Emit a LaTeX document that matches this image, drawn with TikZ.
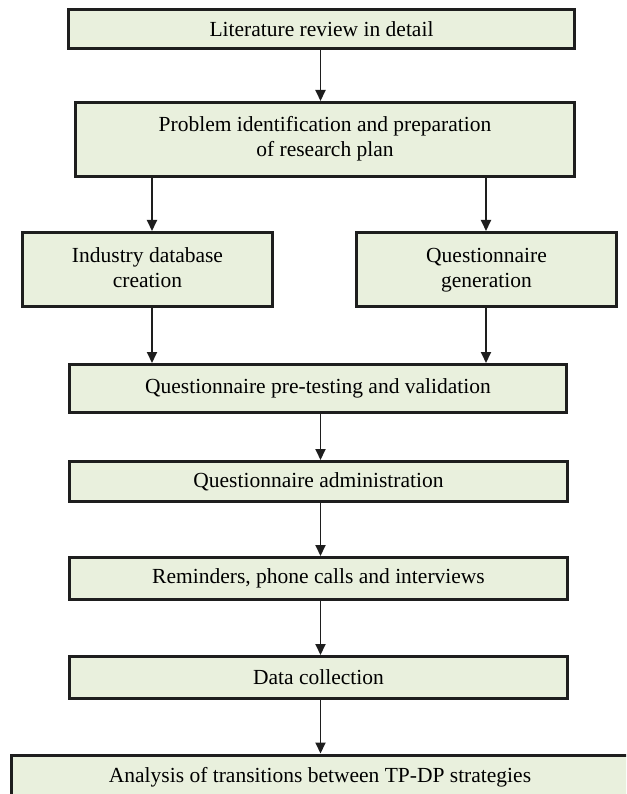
\documentclass[tikz,border=0pt]{standalone}
\usepackage{fontspec}
\setmainfont{Liberation Serif}
\usetikzlibrary{arrows.meta}
\definecolor{boxfill}{RGB}{233,240,221}
\definecolor{boxline}{RGB}{30,30,30}
\tikzset{
  stepbox/.style={draw=boxline, fill=boxfill, line width=3pt, inner sep=0pt,
    align=center, font=\fontsize{21.5}{25}\selectfont},
  arr/.style={draw=boxline, line width=1.9pt, -{Triangle[length=11pt,width=10pt]}}
}
\begin{document}
\begin{tikzpicture}[x=1pt,y=-1pt]
\useasboundingbox (0,0) rectangle (626,794);
\clip (0,0) rectangle (626,794);
\node[stepbox, minimum width=506pt, minimum height=39pt] (b1) at (321.5,29) {Literature review in detail};
\node[stepbox, minimum width=499pt, minimum height=74pt] (b2) at (325,139.5) {\strut Problem identification and preparation\\\strut of research plan};
\node[stepbox, minimum width=250pt, minimum height=74pt] (b3) at (147.5,269.5) {\strut Industry database\\\strut creation};
\node[stepbox, minimum width=260pt, minimum height=74pt] (b4) at (486.5,269.5) {\strut Questionnaire\\\strut generation};
\node[stepbox, minimum width=497pt, minimum height=48pt] (b5) at (318,388.5) {Questionnaire pre-testing and validation};
\node[stepbox, minimum width=498pt, minimum height=40pt] (b6) at (318.5,481.5) {Questionnaire administration};
\node[stepbox, minimum width=498pt, minimum height=42pt] (b7) at (318.5,578.5) {Reminders, phone calls and interviews};
\node[stepbox, minimum width=498pt, minimum height=42pt] (b8) at (318.5,677.5) {Data collection};
\node[stepbox, minimum width=640pt, minimum height=54pt, anchor=north west] (b9) at (9.5,753.5) {};
\node[font=\fontsize{21.5}{25}\selectfont] (t9) at (320,777) {Analysis of transitions between TP-DP strategies};
\coordinate (xl) at (152,0);
\coordinate (xr) at (486,0);
\coordinate (xm) at (320.5,0);
\draw[arr] (b1.south -| xm) -- (b2.north -| xm);
\draw[arr] (b2.south -| xl) -- (b3.north -| xl);
\draw[arr] (b2.south -| xr) -- (b4.north -| xr);
\draw[arr] (b3.south -| xl) -- (b5.north -| xl);
\draw[arr] (b4.south -| xr) -- (b5.north -| xr);
\draw[arr] (b5.south -| xm) -- (b6.north -| xm);
\draw[arr] (b6.south -| xm) -- (b7.north -| xm);
\draw[arr] (b7.south -| xm) -- (b8.north -| xm);
\draw[arr] (b8.south -| xm) -- (b9.north -| xm);
\end{tikzpicture}
\end{document}
